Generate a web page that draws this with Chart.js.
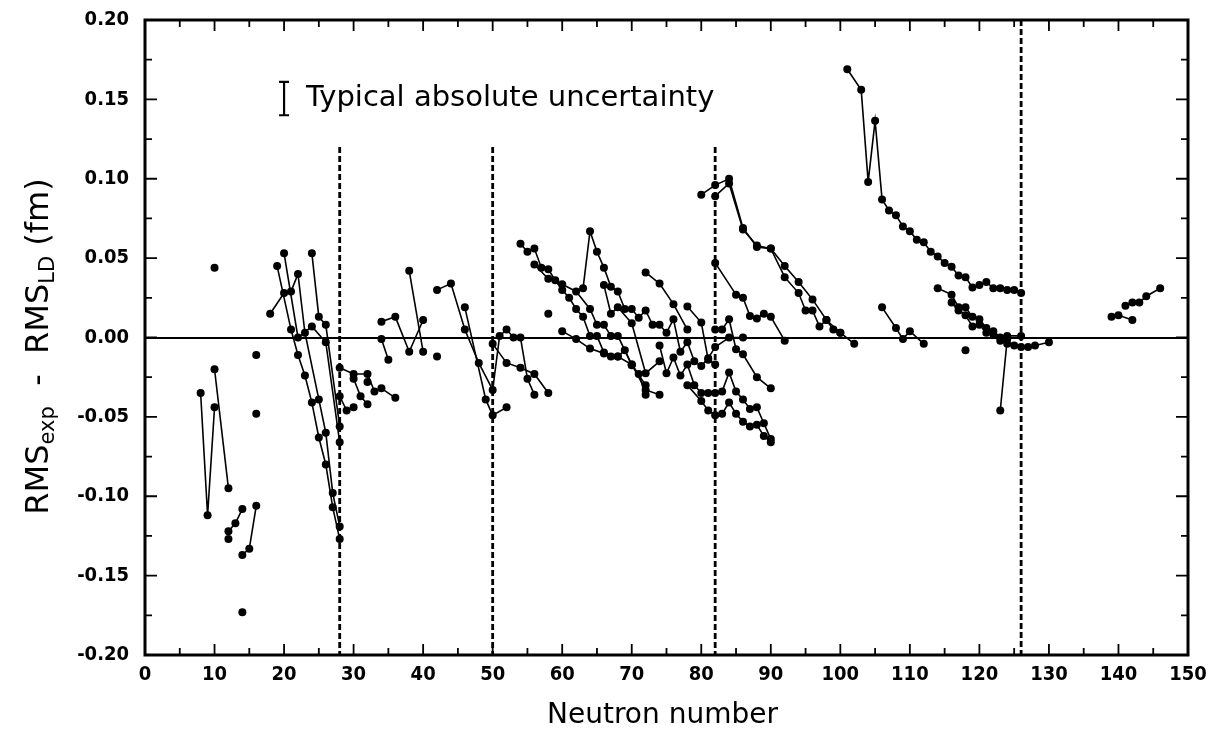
<!DOCTYPE html>
<html><head><meta charset="utf-8">
<script src="https://cdn.jsdelivr.net/npm/chart.js@4.4.1/dist/chart.umd.min.js"></script>
<style>html,body{margin:0;padding:0;background:#fff;}</style>
</head><body>
<canvas id="c" width="1209" height="745"></canvas>
<script>
// ---- data: isotope chains, each point [neutron number, RMSexp - RMSLD (fm)] ----
const s01 = [[8,-0.035],[9,-0.112],[10,-0.044]];
const s02 = [[10,-0.020],[12,-0.095]];
const s03 = [[12,-0.122],[13,-0.117],[14,-0.108]];
const s04 = [[14,-0.137],[15,-0.133],[16,-0.106]];
const s05 = [[18,0.015],[20,0.028],[21,0.029],[22,0.040],[23,0.003],[25,-0.039],[26,-0.060],[27,-0.098],[28,-0.119]];
const s06 = [[19,0.045],[21,0.005],[22,-0.011],[23,-0.024],[24,-0.041],[25,-0.063],[26,-0.080],[27,-0.107],[28,-0.127]];
const s07 = [[20,0.053],[22,0.000],[24,0.007],[26,-0.003],[28,-0.066]];
const s08 = [[24,0.053],[25,0.013],[26,0.008],[28,-0.056]];
const s09 = [[28,-0.019],[30,-0.023],[32,-0.023],[33,-0.034],[34,-0.032],[36,-0.038]];
const s10 = [[28,-0.037],[29,-0.046],[30,-0.044]];
const s11 = [[30,-0.026],[31,-0.037],[32,-0.042]];
const s12 = [[34,0.010],[36,0.013],[38,-0.009],[40,0.011]];
const s13 = [[38,0.042],[40,-0.009]];
const s14 = [[34,-0.001],[35,-0.014]];
const s15 = [[42,0.030],[44,0.034],[46,0.005],[48,-0.016],[50,-0.033],[51,0.001],[52,0.005],[53,0.000],[54,0.000],[55,-0.026],[56,-0.036]];
const s16 = [[46,0.019],[49,-0.039],[50,-0.049],[52,-0.044]];
const s17 = [[50,-0.004],[52,-0.016],[54,-0.019],[56,-0.023],[58,-0.035]];
const s18 = [[54,0.059],[55,0.054],[56,0.056],[57,0.044],[58,0.043],[59,0.036],[60,0.030],[61,0.025],[62,0.018],[63,0.013],[64,0.001],[65,0.001],[66,-0.0095],[67,-0.012],[68,-0.012],[69,-0.008],[70,-0.0175],[71,-0.023],[72,-0.036]];
const s19 = [[56,0.046],[58,0.037],[60,0.0335],[62,0.029],[64,0.018],[65,0.008],[66,0.008],[67,0.001],[68,0.001],[70,-0.017],[72,-0.030]];
const s20 = [[60,0.004],[62,-0.001],[64,-0.007],[66,-0.010],[68,-0.012],[70,-0.017],[72,-0.033],[74,-0.036]];
const s21 = [[63,0.031],[64,0.067],[65,0.054],[66,0.044],[67,0.032],[68,0.029],[69,0.018],[70,0.018],[71,0.0125],[72,0.017],[73,0.008],[74,0.008],[75,0.003],[76,0.0115],[77,-0.009],[78,-0.003],[79,-0.015],[80,-0.018],[81,-0.013],[82,-0.006],[84,0.000],[86,0.000]];
const s22 = [[66,0.033],[67,0.015],[68,0.019],[70,0.009],[72,-0.0225],[74,-0.015]];
const s23 = [[74,-0.005],[75,-0.0225],[76,-0.0126],[77,-0.024],[78,-0.017],[79,-0.030],[80,-0.035],[81,-0.035],[82,-0.035],[83,-0.034],[84,-0.022],[85,-0.034],[86,-0.039],[87,-0.045],[88,-0.044],[89,-0.054],[90,-0.064]];
const s24 = [[78,-0.030],[80,-0.040],[81,-0.046],[82,-0.049],[83,-0.048],[84,-0.041],[85,-0.048],[86,-0.053],[87,-0.056],[88,-0.055],[89,-0.062],[90,-0.066]];
const s25 = [[72,0.041],[74,0.034],[76,0.021],[78,0.005]];
const s26 = [[78,0.0195],[80,0.0094],[81,-0.014],[82,-0.017]];
const s27 = [[82,0.047],[85,0.027],[86,0.025],[87,0.0136],[88,0.012],[89,0.015],[90,0.013],[92,-0.002]];
const s28 = [[82,0.005],[83,0.005],[84,0.0115],[85,-0.0074],[86,-0.0106],[88,-0.025],[90,-0.032]];
const s29 = [[80,0.090],[82,0.096],[84,0.100],[86,0.069],[88,0.057],[90,0.056],[92,0.045],[94,0.035],[96,0.024],[98,0.011],[100,0.003],[102,-0.004]];
const s30 = [[82,0.089],[84,0.097],[86,0.068],[88,0.058],[90,0.056],[92,0.038],[94,0.028],[95,0.017],[96,0.017],[97,0.007],[98,0.011],[99,0.005],[100,0.003]];
const s31 = [[101,0.169],[103,0.156],[104,0.098],[105,0.1365],[106,0.087],[107,0.080],[108,0.077],[109,0.070],[110,0.067],[111,0.0615],[112,0.060],[113,0.054],[114,0.051],[115,0.047],[116,0.0445],[117,0.039],[118,0.038],[119,0.0315],[120,0.033],[121,0.035],[122,0.031],[123,0.031],[124,0.030],[125,0.030],[126,0.028]];
const s32 = [[106,0.019],[108,0.006],[109,-0.001],[110,0.004],[112,-0.004]];
const s33 = [[114,0.031],[116,0.027],[117,0.019],[118,0.019],[119,0.013],[120,0.0115],[121,0.006],[122,0.004],[123,0.000],[124,0.001],[126,0.001]];
const s34 = [[116,0.022],[117,0.017],[118,0.014],[119,0.007],[120,0.008],[121,0.003],[122,0.002],[123,-0.002],[124,-0.004],[125,-0.005],[126,-0.006],[127,-0.006],[128,-0.005],[130,-0.003]];
const s35 = [[123,-0.046],[124,-0.001]];
const s36 = [[139,0.013],[140,0.014],[142,0.011]];
const s37 = [[141,0.020],[142,0.022],[143,0.022],[144,0.026],[146,0.031]];
const singles = [[10,0.044],[12,-0.127],[14,-0.173],[16,-0.011],[16,-0.048],[32,-0.028],[42,-0.012],[58,0.015],[118,-0.008]];

// magic neutron numbers (dashed lines) and where each dashed line starts
const magicN = [28, 50, 82, 126];
const magicTop = [0.12, 0.12, 0.12, 0.20];

// axis ticks
const xTickStep = 10, xMinorStep = 5;
const yTickStep = 0.05, yMinorStep = 0.025;

// typical uncertainty bar
const uncN = 20, uncLow = 0.140, uncHigh = 0.161;
const uncLabel = 'Typical absolute uncertainty';

const chains = [s01,s02,s03,s04,s05,s06,s07,s08,s09,s10,s11,s12,s13,s14,s15,s16,s17,s18,s19,s20,s21,s22,s23,s24,s25,s26,s27,s28,s29,s30,s31,s32,s33,s34,s35,s36,s37];

const FONT = "'Liberation Sans Narrow','DejaVu Sans Condensed','Roboto Condensed','DejaVu Sans',sans-serif";
const TFONT = "'DejaVu Sans','Liberation Sans',sans-serif";

const datasets = [];
magicN.forEach((n,i)=>{
  datasets.push({data:[{x:n,y:magicTop[i]},{x:n,y:-0.2}], showLine:true, borderColor:'#000', borderWidth:2.8, borderDash:[6,3], pointRadius:0});
});
chains.forEach(c=>{
  datasets.push({data:c.map(p=>({x:p[0],y:p[1]})), showLine:true, borderColor:'#000', borderWidth:1.6,
    pointRadius:4, pointBackgroundColor:'#000', pointBorderColor:'#000', pointBorderWidth:0});
});
datasets.push({data:singles.map(p=>({x:p[0],y:p[1]})), showLine:false, pointRadius:4, pointBackgroundColor:'#000', pointBorderColor:'#000', pointBorderWidth:0});
datasets.push({data:[{x:uncN,y:uncLow},{x:uncN,y:uncHigh}], showLine:true, borderColor:'#000', borderWidth:2.2, pointRadius:0});

const deco = {
  id:'deco',
  beforeDatasetsDraw(chart){
    const {ctx, chartArea:a, scales:{x,y}} = chart;
    ctx.save();
    ctx.strokeStyle='#000'; ctx.lineWidth=2;
    const y0 = Math.round(y.getPixelForValue(0));
    ctx.beginPath(); ctx.moveTo(a.left,y0); ctx.lineTo(a.right,y0); ctx.stroke();
    ctx.restore();
  },
  afterDraw(chart){
    const {ctx, chartArea:a, scales:{x,y}} = chart;
    ctx.save();
    ctx.strokeStyle='#000';
    // frame
    ctx.lineWidth=3;
    ctx.strokeRect(a.left, a.top, a.right-a.left, a.bottom-a.top);
    // inward ticks
    ctx.lineWidth=1.8;
    ctx.beginPath();
    for(let v=0; v<=150+1e-9; v+=xMinorStep){
      const px = x.getPixelForValue(v);
      const len = (Math.abs(v % xTickStep) < 1e-9) ? 11 : 7;
      ctx.moveTo(px,a.bottom); ctx.lineTo(px,a.bottom-len);
      ctx.moveTo(px,a.top); ctx.lineTo(px,a.top+len);
    }
    for(let k=-8; k<=8; k++){
      const v = k*yMinorStep;
      const py = y.getPixelForValue(v);
      const len = (k%2===0) ? 12 : 7;
      ctx.moveTo(a.left,py); ctx.lineTo(a.left+len,py);
      ctx.moveTo(a.right,py); ctx.lineTo(a.right-len,py);
    }
    ctx.stroke();
    // uncertainty bar caps
    const ux = x.getPixelForValue(uncN);
    ctx.lineWidth=2.2;
    ctx.beginPath();
    [uncLow,uncHigh].forEach(v=>{const py=y.getPixelForValue(v); ctx.moveTo(ux-5,py); ctx.lineTo(ux+5,py);});
    ctx.stroke();
    ctx.fillStyle='#000';
    ctx.font = "29px "+TFONT;
    ctx.textBaseline='middle'; ctx.textAlign='left';
    ctx.fillText(uncLabel, ux+22, y.getPixelForValue((uncLow+uncHigh)/2));
    // x title
    ctx.font = "28px "+TFONT;
    ctx.textAlign='center'; ctx.textBaseline='middle';
    ctx.fillText('Neutron number', (a.left+a.right)/2 - 4, 716);
    // y title with subscripts
    ctx.translate(40, (a.top+a.bottom)/2 + 9);
    ctx.rotate(-Math.PI/2);
    const big = "32px "+TFONT, small = "21px "+TFONT;
    const parts = [['RMS',big,0],['exp',small,9],['  -  RMS',big,0],['LD',small,9],[' (fm)',big,0]];
    let total=0;
    parts.forEach(p=>{ctx.font=p[1]; total+=ctx.measureText(p[0]).width;});
    let cx=-total/2;
    ctx.textAlign='left';
    parts.forEach(p=>{ctx.font=p[1]; ctx.fillText(p[0], cx, p[2]); cx+=ctx.measureText(p[0]).width;});
    ctx.restore();
  }
};

new Chart(document.getElementById('c'), {
  type:'scatter',
  data:{datasets},
  options:{
    responsive:false, animation:false, devicePixelRatio:1,
    layout:{padding:{left:0,right:21,top:20,bottom:0}},
    plugins:{legend:{display:false}, tooltip:{enabled:false}},
    scales:{
      x:{type:'linear', min:0, max:150,
        afterFit:s=>{s.height=90; s.paddingLeft=0; s.paddingRight=0;},
        grid:{display:false, drawTicks:false},
        border:{display:false},
        ticks:{stepSize:xTickStep, padding:8, color:'#000', font:{family:FONT, size:20, weight:'bold'}, maxRotation:0, autoSkip:false}
      },
      y:{type:'linear', min:-0.2, max:0.2,
        afterFit:s=>{s.width=145; s.paddingTop=0; s.paddingBottom=0;},
        grid:{display:false, drawTicks:false},
        border:{display:false},
        ticks:{stepSize:yTickStep, padding:16, color:'#000', font:{family:FONT, size:20, weight:'bold'},
          callback:v=>(Math.abs(v)<1e-9?0:v).toFixed(2)}
      }
    }
  },
  plugins:[deco]
});
</script>
</body></html>
